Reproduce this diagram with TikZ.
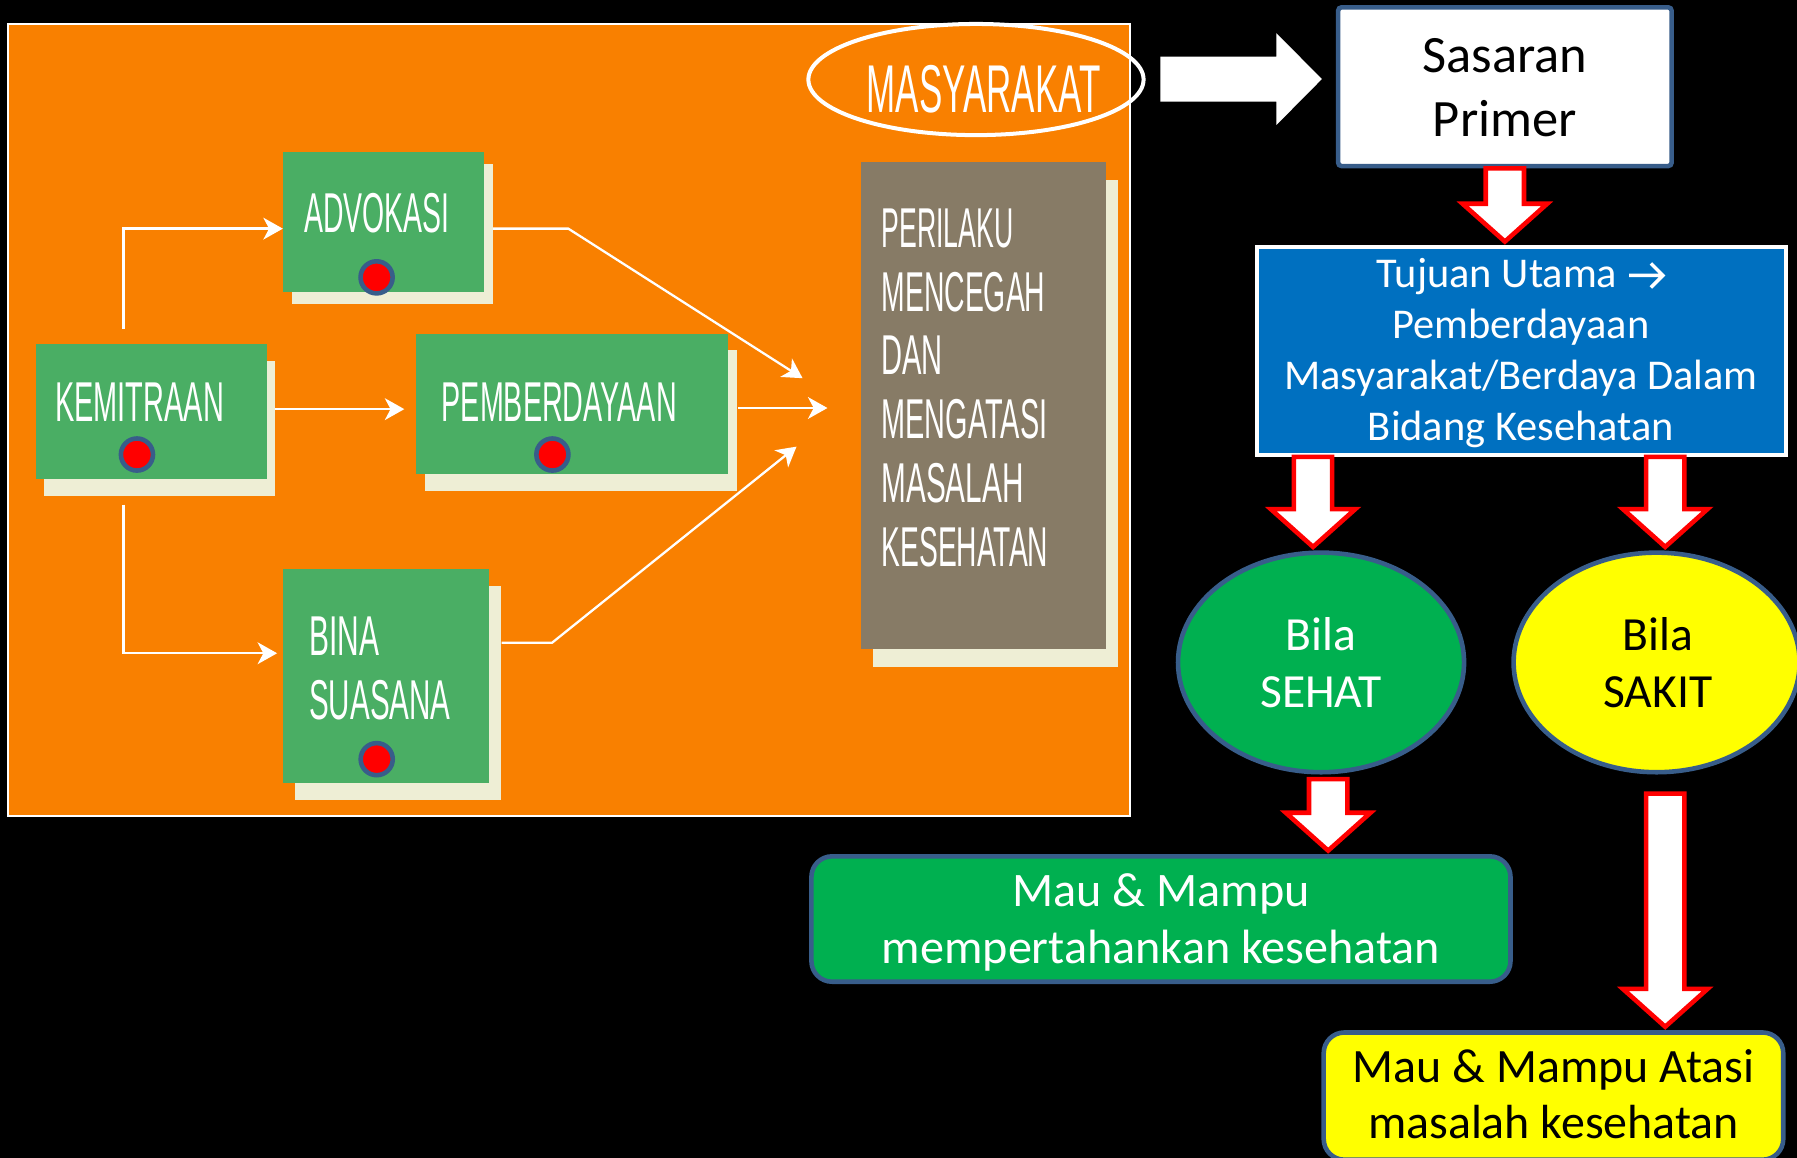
\documentclass[tikz,border=0pt]{standalone}
\usepackage{fontspec}
\usepackage{graphicx}
\usetikzlibrary{arrows.meta,calc,shapes.geometric,shadows}

\newfontfamily\calib{Carlito}
\newfontfamily\condfont{Liberation Sans}

\definecolor{panelorange}{HTML}{F98000}
\definecolor{boxgreen}{HTML}{4AAE64}
\definecolor{cream}{HTML}{EEEED5}
\definecolor{taupe}{HTML}{877B66}
\definecolor{slate}{HTML}{385D8A}
\definecolor{ppblue}{HTML}{0070C0}
\definecolor{ppgreen}{HTML}{00B050}
\definecolor{ppyellow}{HTML}{FFFF00}

% condensed capitals: squeeze a word to a given width, keep its height
\newcommand\narrowtext[2]{\resizebox{#1}{\height}{#2}}
% stacked lines whose reference point is the first baseline
\newcommand\txtstack[2]{\begin{tabular}[t]{@{}#1@{}}#2\end{tabular}}

% hollow block arrow pointing down from a start point onto a node's top
\newcommand\redarrow[2]{%
  \draw[redblock] let \p1=(#1), \p2=(#2.north) in
    (\x1-16.7pt,\y1) -- (\x1-16.7pt,\y2+36pt) -- (\x1-36.9pt,\y2+36pt) -- (\x1,\y2+3pt)
    -- (\x1+36.9pt,\y2+36pt) -- (\x1+16.7pt,\y2+36pt) -- (\x1+16.7pt,\y1) -- cycle;}

\begin{document}
\begin{tikzpicture}[x=1pt,y=-1pt,
  panelbox/.style={draw=white, line width=2pt, fill=panelorange, inner sep=0pt},
  greenbox/.style={fill=boxgreen, inner sep=0pt},
  dotmark/.style={circle, fill=red, draw=slate, line width=4pt, minimum size=28pt, inner sep=0pt},
  condtxt/.style={text=white, inner sep=0pt, font=\condfont\fontsize{49}{56}\selectfont},
  calibtxt/.style={inner sep=0pt, anchor=base},
  conn/.style={draw=white, line width=2pt, -{Stealth[length=17pt,width=19pt,inset=5pt]}},
  redblock/.style={fill=white, draw=red, line width=4pt, line join=miter},
  roundbox/.style={rectangle, rounded corners=18pt, draw=slate, line width=4pt, inner sep=0pt},
  bubble/.style={ellipse, draw=slate, line width=4pt, minimum width=249.6pt, minimum height=191.6pt, inner sep=0pt},
]
\clip (0,0) rectangle (1568,1010);
\fill[black] (0,0) rectangle (1568,1010);

% ---------- left panel ----------
\node[panelbox, minimum width=979pt, minimum height=691pt] (panel) at (496.5,366.5) {};

\node[draw=white, line width=3.5pt, ellipse, minimum width=292.5pt, minimum height=97pt, inner sep=0pt] (masy) at (851.6,69.4) {};
\node[condtxt, font=\condfont\fontsize{59}{70}\selectfont, anchor=base west] (masy-t) at (756,97.8) {\narrowtext{204pt}{MASYARAKAT}};

\node[greenbox, general shadow={fill=cream, shadow xshift=8pt, shadow yshift=-10pt},
      minimum width=175pt, minimum height=122pt] (advokasi) at (334.5,194) {};
\node[greenbox, general shadow={fill=cream, shadow xshift=7pt, shadow yshift=-15pt},
      minimum width=202pt, minimum height=118pt] (kemitraan) at (132,359) {};
\node[greenbox, general shadow={fill=cream, shadow xshift=8pt, shadow yshift=-14pt},
      minimum width=272.3pt, minimum height=122.5pt] (pemberdayaan) at (499.15,352.75) {};
\node[greenbox, general shadow={fill=cream, shadow xshift=10pt, shadow yshift=-15pt},
      minimum width=180pt, minimum height=186.5pt] (bina) at (337,589.75) {};
\node[fill=taupe, inner sep=0pt, general shadow={fill=cream, shadow xshift=10pt, shadow yshift=-16pt},
      minimum width=213.9pt, minimum height=425pt] (perilaku) at (858.35,353.5) {};

\node[condtxt, anchor=base west] (advokasi-t) at (265.3,202.5) {\narrowtext{126.7pt}{ADVOKASI}};
\node[condtxt, anchor=base west] (kemitraan-t) at (48,367.4) {\narrowtext{147.3pt}{KEMITRAAN}};
\node[condtxt, anchor=base west] (pemberdayaan-t) at (385.3,367.4) {\narrowtext{205pt}{PEMBERDAYAAN}};
\node[condtxt, anchor=base west] (bina-t) at (269.6,571.6)
  {\txtstack{l}{\narrowtext{61pt}{BINA}\\\narrowtext{123.4pt}{SUASANA}}};
\node[condtxt, font=\condfont\fontsize{49}{55.6}\selectfont, anchor=base west] (perilaku-t) at (769,216)
  {\txtstack{l}{\narrowtext{115pt}{PERILAKU}\\\narrowtext{143pt}{MENCEGAH}\\\narrowtext{53.6pt}{DAN}\\
   \narrowtext{144.6pt}{MENGATASI}\\\narrowtext{124pt}{MASALAH}\\\narrowtext{145.5pt}{KESEHATAN}}};

\node[dotmark] (advokasi-dot) at (328.6,242) {};
\node[dotmark] (kemitraan-dot) at (119.5,396.6) {};
\node[dotmark] (pemberdayaan-dot) at (482,396.6) {};
\node[dotmark] (bina-dot) at (328.7,662.4) {};

\coordinate (g1) at (700.3,330);
\coordinate (g2) at (722,356);
\coordinate (g3) at (695,389.7);
\draw[conn] ($(kemitraan.north)+(-24.3,-13)$) |- ($(advokasi.west)+(0,5.5)$);
\draw[conn] ($(kemitraan.south)+(-24.3,22)$) |- ($(bina.west)+(-5,-19.75)$);
\draw[conn] ($(kemitraan.east)+(7,-2)$) -- ($(pemberdayaan.west)+(-10,4.25)$);
\draw[conn] ($(advokasi.east)+(8,5.5)$) -- ++(65.7,0) -- (g1);
\draw[conn] ($(pemberdayaan.east)+(8.4,3.25)$) -- (g2);
\draw[conn] ($(bina.east)+(10.6,-29)$) -- ++(44,0) -- (g3);

% ---------- right-hand flow ----------
\node[draw=slate, fill=white, line width=4pt, rounded corners=3pt, inner sep=0pt,
      minimum width=291pt, minimum height=138.5pt] (sasaran) at (1313.1,75.65) {};
\node[calibtxt, font=\calib\fontsize{45.8}{56}\selectfont, text=black] (sasaran-t) at (1313.1,63.4)
  {\txtstack{c}{Sasaran\\Primer}};

\node[draw=white, fill=ppblue, line width=3.5pt, inner sep=0pt,
      minimum width=461pt, minimum height=181.3pt] (tujuan) at (1327.5,306.2) {};
\node[calibtxt, font=\calib\fontsize{37}{44.6}\selectfont, text=white] (tujuan-t) at (1327,250.8)
  {\txtstack{c}{Tujuan Utama \makebox[33pt]{}\\Pemberdayaan\\Masyarakat/Berdaya Dalam\\Bidang Kesehatan}};
% the arrow sign closing the first line
\draw[white, line width=3pt, line join=miter]
  ($(tujuan-t.base)+(94.5,-10.5)$) -- ++(29.5,0)
  ($(tujuan-t.base)+(113.5,-21)$) -- ($(tujuan-t.base)+(124,-10.5)$) -- ($(tujuan-t.base)+(113.5,0)$);

\node[bubble, fill=ppgreen] (sehat) at (1152.7,578) {};
\node[calibtxt, font=\calib\fontsize{41.5}{50}\selectfont, text=white] (sehat-t) at (1152.7,567.2)
  {\txtstack{c}{Bila\\SEHAT}};
\node[bubble, fill=ppyellow] (sakit) at (1445.5,578) {};
\node[calibtxt, font=\calib\fontsize{41.5}{50}\selectfont, text=black] (sakit-t) at (1446.5,567.2)
  {\txtstack{c}{Bila\\SAKIT}};

\node[roundbox, fill=ppgreen, minimum width=610pt, minimum height=109.4pt] (mampu1) at (1013,801.9) {};
\node[calibtxt, font=\calib\fontsize{42}{49.3}\selectfont, text=white] (mampu1-t) at (1013,791)
  {\txtstack{c}{Mau \& Mampu\\mempertahankan kesehatan}};
\node[roundbox, fill=ppyellow, minimum width=401pt, minimum height=111pt] (mampu2) at (1355.5,956.4) {};
\node[calibtxt, font=\calib\fontsize{41.8}{49.3}\selectfont, text=black] (mampu2-t) at (1355.5,944.5)
  {\txtstack{c}{Mau \& Mampu Atasi\\masalah kesehatan}};

% wide white arrow from the community to the primary target
\coordinate (ba1) at ($(masy.east)+(12.9,-0.4)$);
\coordinate (ba2) at ($(sasaran.west |- ba1)+(-12.2,0)$);
\fill[white] let \p1=(ba1), \p2=(ba2) in
  (\x1,\y1+19.6pt) -- (\x2-39.6pt,\y1+19.6pt) -- (\x2-39.6pt,\y1+40pt) -- (\x2,\y1)
  -- (\x2-39.6pt,\y1-40pt) -- (\x2-39.6pt,\y1-19.6pt) -- (\x1,\y1-19.6pt) -- cycle;

% red-outlined down arrows
\coordinate (r1) at (sasaran.south);
\coordinate (r2) at ($(tujuan.south)+(-181.8,0)$);
\coordinate (r3) at ($(tujuan.south)+(125.5,0)$);
\coordinate (r4) at ($(sehat.south)+(6.2,4)$);
\coordinate (r5) at ($(sakit.south)+(7.5,16.7)$);
\redarrow{r1}{tujuan}
\redarrow{r2}{sehat}
\redarrow{r3}{sakit}
\redarrow{r4}{mampu1}
\redarrow{r5}{mampu2}
\end{tikzpicture}
\end{document}
